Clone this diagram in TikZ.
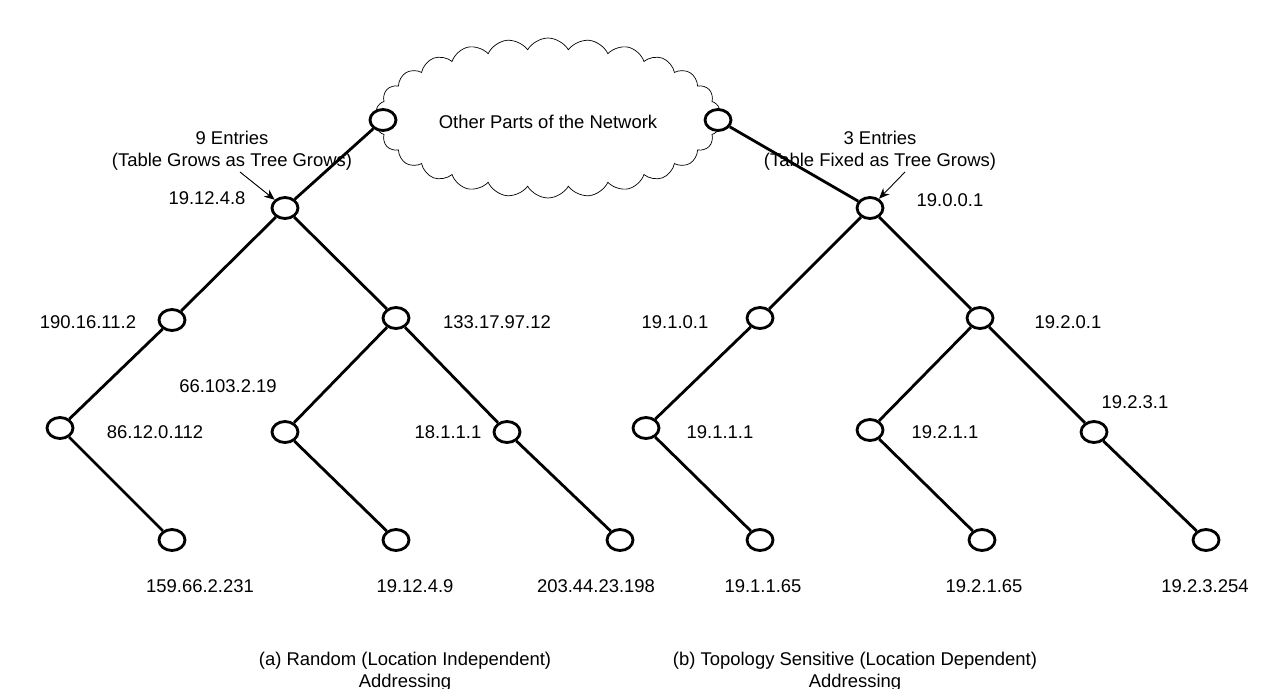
\documentclass[tikz,border=0pt]{standalone}
\usepackage{fontspec}
\setmainfont{Liberation Sans}
\usetikzlibrary{shapes.symbols,shapes.geometric,arrows.meta}
\begin{document}
\begin{tikzpicture}[x=0.02cm,y=-0.02cm,
 nd/.style={draw,ellipse,line width=1.6pt,minimum width=0.52cm,minimum height=0.42cm,inner sep=0pt,fill=white},
 ed/.style={line width=1.6pt},
 lb/.style={font=\fontsize{10.5}{12.6}\selectfont,inner sep=0pt},
 ar/.style={-{Stealth[length=6pt,width=5pt]},line width=0.5pt}]
\useasboundingbox (0,0) rectangle (1267,689);
\node[cloud,draw,cloud puffs=26,cloud puff arc=120,aspect=2.3,minimum width=6.9cm,minimum height=3.2cm,line width=0.4pt] (cl) at (548,118) {};
\node[lb] (clt) at (548,122) {Other Parts of the Network};
% left tree
\node[nd] (a0) at (383,120) {};
\node[nd] (a1) at (285,208) {};
\node[nd] (a2) at (172,320) {};
\node[nd] (a3) at (396,318) {};
\node[nd] (a4) at (60,428) {};
\node[nd] (a5) at (285,432) {};
\node[nd] (a6) at (507,432) {};
\node[nd] (a7) at (172,540) {};
\node[nd] (a8) at (396,540) {};
\node[nd] (a9) at (620,540) {};
\draw[ed] (a0)--(a1) (a1)--(a2) (a1)--(a3) (a2)--(a4) (a4)--(a7) (a3)--(a5) (a3)--(a6) (a5)--(a8) (a6)--(a9);
% right tree
\node[nd] (b0) at (718,120) {};
\node[nd] (b1) at (870,208) {};
\node[nd] (b2) at (760,318) {};
\node[nd] (b3) at (980,318) {};
\node[nd] (b4) at (646,428) {};
\node[nd] (b5) at (870,430) {};
\node[nd] (b6) at (1094,432) {};
\node[nd] (b7) at (760,540) {};
\node[nd] (b8) at (982,540) {};
\node[nd] (b9) at (1206,540) {};
\draw[ed] (b0)--(b1) (b1)--(b2) (b1)--(b3) (b2)--(b4) (b4)--(b7) (b3)--(b5) (b3)--(b6) (b5)--(b8) (b6)--(b9);
% labels
\node[lb] (l1) at (207,198) {19.12.4.8};
\node[lb] (l2) at (88,322) {190.16.11.2};
\node[lb] (l3) at (497,322) {133.17.97.12};
\node[lb] (l4) at (155,432) {86.12.0.112};
\node[lb] (l5) at (228,386) {66.103.2.19};
\node[lb] (l6) at (448,432) {18.1.1.1};
\node[lb] (l7) at (200,586) {159.66.2.231};
\node[lb] (l8) at (415,586) {19.12.4.9};
\node[lb] (l9) at (596,586) {203.44.23.198};
\node[lb] (r1) at (950,200) {19.0.0.1};
\node[lb] (r2) at (675,322) {19.1.0.1};
\node[lb] (r3) at (1068,322) {19.2.0.1};
\node[lb] (r4) at (720,432) {19.1.1.1};
\node[lb] (r5) at (945,432) {19.2.1.1};
\node[lb] (r6) at (1135,402) {19.2.3.1};
\node[lb] (r7) at (763,586) {19.1.1.65};
\node[lb] (r8) at (984,586) {19.2.1.65};
\node[lb] (r9) at (1205,586) {19.2.3.254};
\node[lb,align=center] (e1) at (232,151) {9 Entries\\(Table Grows as Tree Grows)};
\node[lb,align=center] (e2) at (880,151) {3 Entries\\(Table Fixed as Tree Grows)};
\draw[ar] (240,172) -- (a1);
\draw[ar] (905,172) -- (b1);
\node[lb,align=center] (c1) at (405,672) {(a) Random (Location Independent)\\Addressing};
\node[lb,align=center] (c2) at (855,672) {(b) Topology Sensitive (Location Dependent)\\Addressing};
\end{tikzpicture}
\end{document}
